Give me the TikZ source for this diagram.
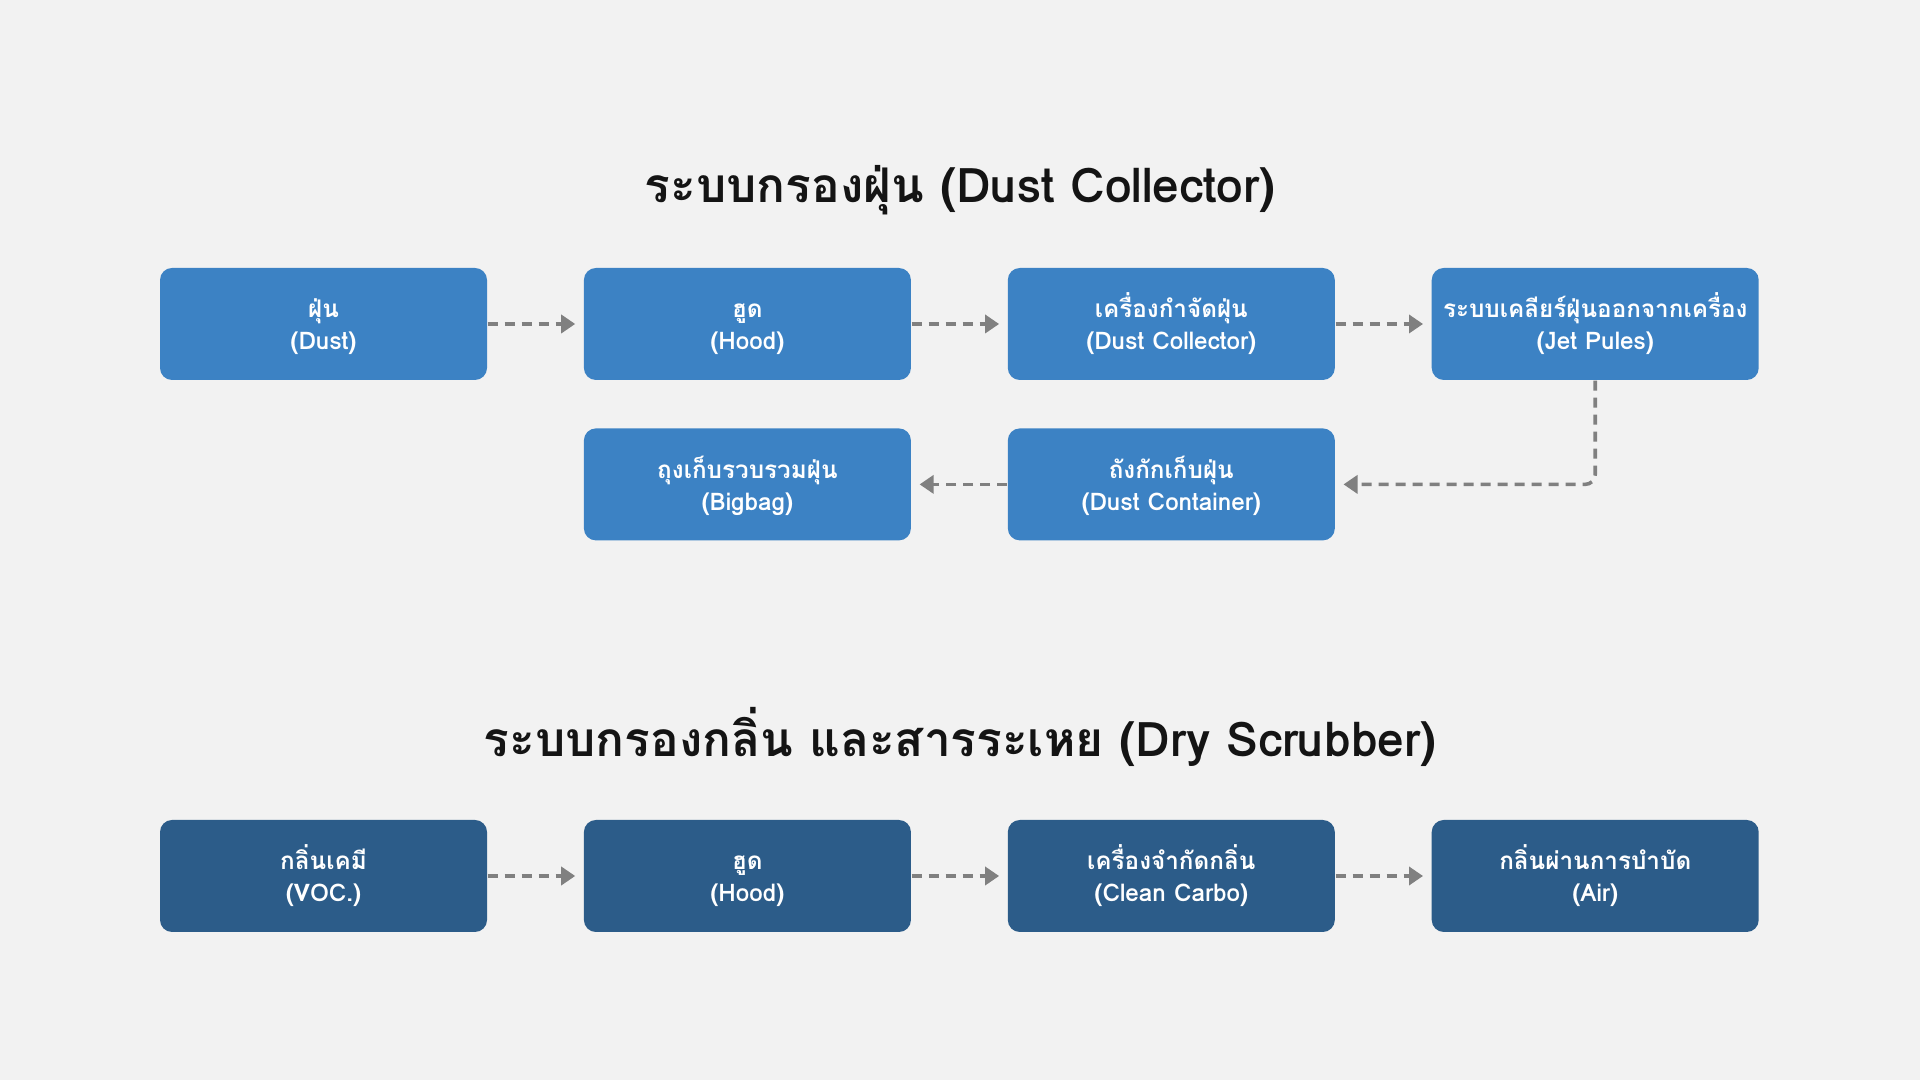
\documentclass[tikz,border=0pt]{standalone}
\usepackage{fontspec}
\setmainfont{Loma}[Script=Thai]
\usetikzlibrary{positioning,arrows.meta}

\definecolor{stageblue}{HTML}{3C82C4}
\definecolor{stagedark}{HTML}{2C5C89}
\definecolor{paper}{HTML}{F2F2F2}
\definecolor{flowgray}{HTML}{808080}

% two-line label, first line kept at a fixed height
\newcommand{\stagelabel}[2]{\vphantom{ครื่}#1\\#2}

\tikzset{
    stage/.style = {rectangle, rounded corners=0.12cm, fill=stageblue, text=white,
        minimum width=3.27cm, minimum height=1.12cm, inner sep=0pt, align=center,
        font=\bfseries\fontsize{6.9}{9.1}\selectfont},
    darkstage/.style = {stage, fill=stagedark},
    heading/.style = {font=\bfseries\fontsize{13.6}{15}\selectfont, text=black!92},
    flow/.style = {draw=flowgray, line width=1pt, dash pattern=on 0.1cm off 0.07cm,
        -{Triangle[length=0.14cm,width=0.18cm]}, flowgray, shorten >=0.08cm},
}

\begin{document}
\begin{tikzpicture}[node distance=0.47cm and 0.955cm]
    \fill[paper] (0,0) rectangle (19.2,10.8);
    \useasboundingbox (0,0) rectangle (19.2,10.8);

    % dust collector
    \node[heading] (title1) at (9.6,8.90) {ระบบกรองฝุ่น (Dust Collector)};
    \node[stage] (dust) at (3.235,7.56) {\stagelabel{ฝุ่น}{(Dust)}};
    \node[stage, right=of dust] (hood1) {\stagelabel{ฮูด}{(Hood)}};
    \node[stage, right=of hood1] (collector) {\stagelabel{เครื่องกำจัดฝุ่น}{(Dust Collector)}};
    \node[stage, right=of collector] (jet) {\stagelabel{ระบบเคลียร์ฝุ่นออกจากเครื่อง}{(Jet Pules)}};
    \node[stage, below=of collector] (container) {\stagelabel{ถังกักเก็บฝุ่น}{(Dust Container)}};
    \node[stage, left=of container] (bigbag) {\stagelabel{ถุงเก็บรวบรวมฝุ่น}{(Bigbag)}};

    \draw[flow] (dust) -- (hood1);
    \draw[flow] (hood1) -- (collector);
    \draw[flow] (collector) -- (jet);
    \draw[flow, rounded corners=0.1cm] (jet.south) |- (container.east);
    \draw[flow] (container) -- (bigbag);

    % dry scrubber
    \node[heading] (title2) at (9.6,3.43) {ระบบกรองกลิ่น และสารระเหย (Dry Scrubber)};
    \node[darkstage] (voc) at (3.235,2.04) {\stagelabel{กลิ่นเคมี}{(VOC.)}};
    \node[darkstage, right=of voc] (hood2) {\stagelabel{ฮูด}{(Hood)}};
    \node[darkstage, right=of hood2] (carbo) {\stagelabel{เครื่องจำกัดกลิ่น}{(Clean Carbo)}};
    \node[darkstage, right=of carbo] (air) {\stagelabel{กลิ่นผ่านการบำบัด}{(Air)}};

    \draw[flow] (voc) -- (hood2);
    \draw[flow] (hood2) -- (carbo);
    \draw[flow] (carbo) -- (air);
\end{tikzpicture}
\end{document}
